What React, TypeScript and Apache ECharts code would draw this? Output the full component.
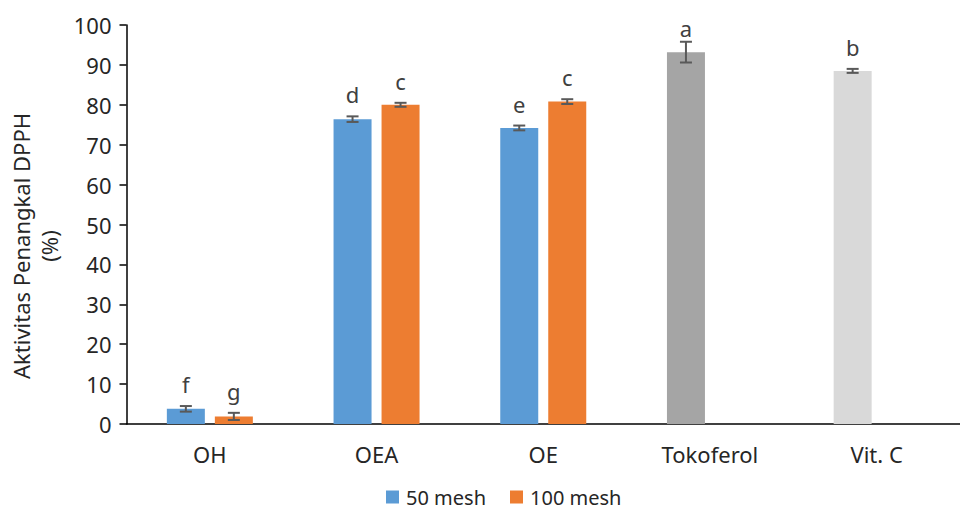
import React, { useEffect, useRef } from "react";
import * as echarts from "echarts";

const categories = ["OH", "OEA", "OE", "Tokoferol", "Vit. C"];
const mesh50 = [3.8, 76.4, 74.2, 93.2, 88.5];
const mesh50Err = [0.7, 0.7, 0.6, 2.6, 0.5];
const mesh100: (number | null)[] = [1.9, 80.0, 80.8, null, null];
const mesh100Err: (number | null)[] = [0.9, 0.5, 0.6, null, null];
const letters50 = ["f", "d", "e", "a", "b"];
const letters100: (string | null)[] = ["g", "c", "c", null, null];
const colors50 = ["#5B9BD5", "#5B9BD5", "#5B9BD5", "#A5A5A5", "#D9D9D9"];
const color100 = "#ED7D31";
const yTicks = { min: 0, max: 100, interval: 10 };

const FONT = "'Noto Sans', 'Open Sans', sans-serif";
const FS = 22;
const BAR_W = 38;
const BAR_GAP = 10;
const TEXT = "#262626";

export default function App() {
  const ref = useRef<HTMLDivElement>(null);
  useEffect(() => {
    if (!ref.current) return;
    const chart = echarts.init(ref.current, null, { renderer: "svg" });
    const offset = (BAR_W + BAR_GAP) / 2;

    const errData: any[] = [];
    mesh50.forEach((v, i) => errData.push([i, v, mesh50Err[i], letters50[i], -1]));
    mesh100.forEach((v, i) => {
      if (v != null) errData.push([i, v, mesh100Err[i], letters100[i], 1]);
    });

    const option: any = {
      animation: false,
      grid: { left: 126.5, top: 25, width: 846, height: 399, containLabel: false },
      legend: {
        data: ["50 mesh", "100 mesh"],
        left: 386,
        top: 487,
        icon: "rect",
        itemWidth: 13,
        itemHeight: 13,
        itemGap: 24,
        padding: 0,
        textStyle: { fontFamily: FONT, fontSize: 20, color: TEXT, lineHeight: 18, padding: [0, 0, 0, 2] },
      },
      xAxis: {
        type: "category",
        data: categories,
        axisLine: { lineStyle: { color: "#000", width: 1.5 } },
        axisTick: { show: false },
        axisLabel: { fontFamily: FONT, fontSize: FS, color: TEXT, margin: 19 },
      },
      yAxis: {
        type: "value",
        min: yTicks.min,
        max: yTicks.max,
        interval: yTicks.interval,
        splitLine: { show: false },
        axisLine: { show: true, lineStyle: { color: "#000", width: 1.5 } },
        axisTick: { show: true, length: 7, lineStyle: { color: "#000", width: 1.5 } },
        axisLabel: { fontFamily: FONT, fontSize: FS, color: TEXT, margin: 15 },
      },
      graphic: [
        {
          type: "text",
          x: 35,
          y: 246,
          rotation: Math.PI / 2,
          style: {
            text: "Aktivitas Penangkal DPPH\n(%)",
            fontFamily: FONT,
            fontSize: FS,
            lineHeight: 28,
            fill: TEXT,
            align: "center",
            verticalAlign: "middle",
          },
        },
      ],
      series: [
        {
          name: "50 mesh",
          type: "bar",
          barWidth: BAR_W,
          barGap: `${(BAR_GAP / BAR_W) * 100}%`,
          itemStyle: { color: colors50[0] },
          data: mesh50.map((v, i) => ({ value: v, itemStyle: { color: colors50[i] } })),
        },
        {
          name: "100 mesh",
          type: "bar",
          barWidth: BAR_W,
          itemStyle: { color: color100 },
          data: mesh100.map((v) => (v == null ? "-" : v)),
        },
        {
          type: "custom",
          name: "err",
          silent: true,
          encode: { x: 0, y: 1 },
          data: errData,
          z: 5,
          renderItem: (params: any, api: any) => {
            const idx = api.value(0);
            const val = api.value(1);
            const err = api.value(2);
            const side = api.value(4);
            const letter = errData[params.dataIndex][3];
            const c = api.coord([idx, val]);
            const x = c[0] + side * offset;
            const yTop = api.coord([idx, val + err])[1];
            const yBot = api.coord([idx, val - err])[1];
            const cap = 6;
            const st = { stroke: "#595959", lineWidth: 2 };
            const textY = Math.max(yTop - 11, 39);
            return {
              type: "group",
              children: [
                { type: "line", shape: { x1: x, y1: yTop, x2: x, y2: yBot }, style: st },
                { type: "line", shape: { x1: x - cap, y1: yTop, x2: x + cap, y2: yTop }, style: st },
                { type: "line", shape: { x1: x - cap, y1: yBot, x2: x + cap, y2: yBot }, style: st },
                {
                  type: "text",
                  x: x,
                  y: textY,
                  style: {
                    text: letter,
                    fontFamily: FONT,
                    fontSize: 22,
                    fill: "#404040",
                    align: "center",
                    verticalAlign: "bottom",
                  },
                },
              ],
            };
          },
        },
      ],
    };
    chart.setOption(option);
    return () => chart.dispose();
  }, []);
  return (
    <div
      ref={ref}
      style={{ position: "fixed", left: 0, top: 0, width: 960, height: 510, background: "#fff" }}
    />
  );
}
